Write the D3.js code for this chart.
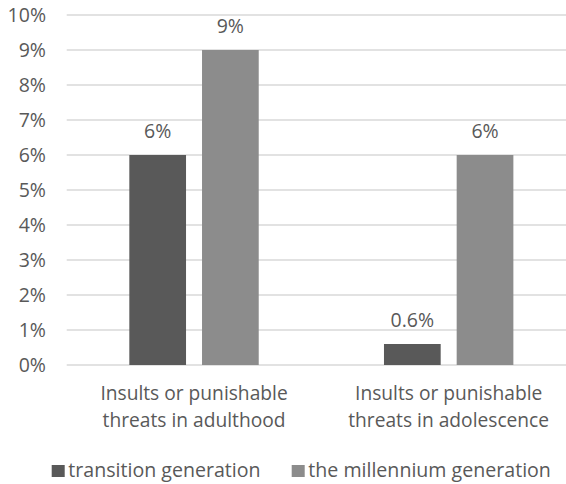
<!DOCTYPE html>
<html>
<head>
<meta charset="utf-8">
<script src="https://cdn.jsdelivr.net/npm/d3@7"></script>
<style>
  html, body { margin: 0; padding: 0; background: #fff; }
  svg { display: block; font-family: "Open Sans", sans-serif; }
</style>
</head>
<body>
<svg id="chart" width="566" height="484"></svg>
<script>
// Categories (two-line labels) and series values in percent
const categories = [
  ["Insults or punishable", "threats in adulthood"],
  ["Insults or punishable", "threats in adolescence"]
];
const seriesNames = ["transition generation", "the millennium generation"];
const transitionValues = [6, 0.6];
const millenniumValues = [9, 6];
const valueLabels = [["6%", "0.6%"], ["9%", "6%"]];
const yTicks = [0, 1, 2, 3, 4, 5, 6, 7, 8, 9, 10];

const colors = ["#595959", "#8c8c8c"];
const textColor = "#595959";
const gridColor = "#d9d9d9";

const svg = d3.select("#chart");
const W = 566, H = 484;

// One band per category; plot area runs slightly past the right edge
const x0 = d3.scaleBand()
  .domain(d3.range(categories.length))
  .range([66.7, 576])
  .paddingInner(0)
  .paddingOuter(0);

const groupWidth = 129.4;
const x1 = d3.scaleBand()
  .domain(d3.range(seriesNames.length))
  .range([0, groupWidth])
  .paddingInner(0.22);

const y = d3.scaleLinear().domain([0, 10]).range([365, 15]);

// Horizontal gridlines
svg.append("g")
  .selectAll("line")
  .data(yTicks)
  .join("line")
  .attr("x1", x0.range()[0])
  .attr("x2", W)
  .attr("y1", d => y(d))
  .attr("y2", d => y(d))
  .attr("stroke", gridColor)
  .attr("stroke-width", 1.3);

// Y axis tick labels
const yAxis = d3.axisLeft(y)
  .tickValues(yTicks)
  .tickFormat(d => d + "%")
  .tickSize(0)
  .tickPadding(0);
const yg = svg.append("g")
  .attr("transform", "translate(46,0)")
  .call(yAxis);
yg.select(".domain").remove();
yg.attr("font-size", null).attr("font-family", null);
yg.selectAll("text")
  .attr("fill", textColor)
  .attr("font-size", 19.5)
  .attr("font-family", "'Open Sans', sans-serif");

// Bars
const series = [transitionValues, millenniumValues];
const barData = [];
series.forEach((vals, s) => vals.forEach((v, c) => barData.push({ s, c, v, label: valueLabels[s][c] })));

const groupOffset = c => x0(c) + (x0.bandwidth() - groupWidth) / 2;

svg.append("g")
  .selectAll("rect")
  .data(barData)
  .join("rect")
  .attr("x", d => groupOffset(d.c) + x1(d.s))
  .attr("y", d => y(d.v))
  .attr("width", x1.bandwidth())
  .attr("height", d => y(0) - y(d.v))
  .attr("fill", d => colors[d.s]);

// Value labels above bars
svg.append("g")
  .selectAll("text")
  .data(barData)
  .join("text")
  .attr("x", d => groupOffset(d.c) + x1(d.s) + x1.bandwidth() / 2)
  .attr("y", d => y(d.v) - 17.5)
  .attr("text-anchor", "middle")
  .attr("fill", textColor)
  .attr("font-size", 19.5)
  .text(d => d.label);

// Category labels
const catG = svg.append("g")
  .selectAll("text")
  .data(categories)
  .join("text")
  .attr("x", (d, i) => groupOffset(i) + groupWidth / 2)
  .attr("y", 400)
  .attr("text-anchor", "middle")
  .attr("fill", textColor)
  .attr("font-size", 19.2);
catG.selectAll("tspan")
  .data(d => d)
  .join("tspan")
  .attr("x", function () { return d3.select(this.parentNode).attr("x"); })
  .attr("dy", (d, i) => i === 0 ? 0 : 26.7)
  .text(d => d);

// Legend
const legend = svg.append("g");
const legendItems = [
  { name: seriesNames[0], color: colors[0], x: 51.7 },
  { name: seriesNames[1], color: colors[1], x: 291.7 }
];
const li = legend.selectAll("g")
  .data(legendItems)
  .join("g")
  .attr("transform", d => `translate(${d.x},0)`);
li.append("rect")
  .attr("x", 0)
  .attr("y", 465)
  .attr("width", 13)
  .attr("height", 12)
  .attr("fill", d => d.color);
li.append("text")
  .attr("x", 16.6)
  .attr("y", 477)
  .attr("fill", textColor)
  .attr("font-size", 19.6)
  .text(d => d.name);
</script>
</body>
</html>
